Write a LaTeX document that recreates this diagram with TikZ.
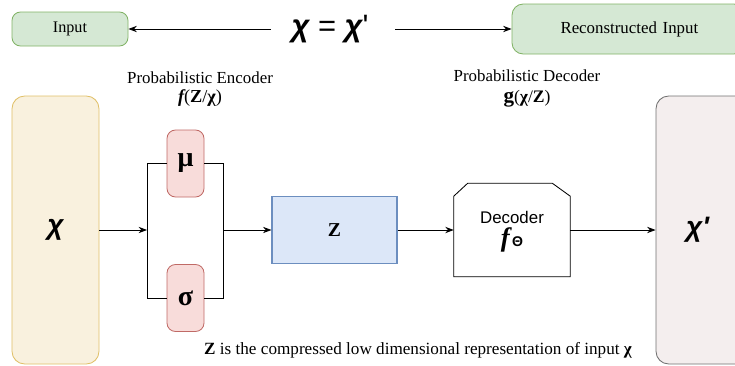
\documentclass[tikz,border=0pt]{standalone}
\usepackage{fontspec}
\setmainfont{Liberation Serif}
\newfontfamily\sansfont{Liberation Sans}
\usetikzlibrary{arrows.meta,calc}
\definecolor{greenfill}{HTML}{D5E8D4}
\definecolor{greenline}{HTML}{82B366}
\definecolor{yellowfill}{HTML}{F9F1DE}
\definecolor{yellowline}{HTML}{E0C068}
\definecolor{redfill}{HTML}{F8DCDA}
\definecolor{redline}{HTML}{C06A66}
\definecolor{bluefill}{HTML}{DCE7F8}
\definecolor{blueline}{HTML}{6C8EBF}
\definecolor{greyfill}{HTML}{F4EEEE}
\definecolor{greyline}{HTML}{707070}

\tikzset{
    box/.style={draw,rounded corners=6pt,line width=0.6pt,inner sep=0pt},
    conn/.style={line width=0.6pt,-{Stealth[length=6pt,width=4.5pt]}},
    bigchi/.style={font=\sansfont\bfseries\itshape\fontsize{20}{21}\selectfont}
}

\begin{document}
\begin{tikzpicture}
    \useasboundingbox (0,0) rectangle (18.375,-9.15);
    \node[box,fill=greenfill,draw=greenline,minimum width=2.9cm,minimum height=0.85cm,font=\fontsize{11.5}{13}\selectfont] (input) at (1.75,-0.725){Input};
    \node[box,fill=greenfill,draw=greenline,minimum width=5.825cm,minimum height=1.25cm,rounded corners=8pt,font=\fontsize{12}{14}\selectfont,text width=5.3cm,align=left] (recon) at (15.7125,-0.725){\hspace{0.95cm}Reconstructed Input};
    \node[font=\sansfont\fontsize{22}{24}\selectfont] (eq) at (8.25,-0.725){{\bfseries\itshape χ} = {\bfseries\itshape χ}'};
    \draw[conn] ($(eq.west)+(-0.4,0)$) -- (input.east);
    \draw[conn] ($(eq.east)+(0.55,0)$) -- (recon.west);

    \node[font=\fontsize{12}{14}\selectfont] (enclabel) at (5.0,-1.95){Probabilistic Encoder};
    \node[font=\fontsize{13}{15}\selectfont] (encf) at (5.0,-2.45){{\bfseries\itshape f}({\bfseries Z}/{\bfseries χ})};
    \node[font=\fontsize{12}{14}\selectfont] (declabel) at (13.175,-1.9){Probabilistic Decoder};
    \node[font=\fontsize{12.5}{15}\selectfont] (decg) at (13.175,-2.475){{\bfseries\fontsize{15}{15}\selectfont g}({\bfseries χ}/{\bfseries Z})};

    \node[box,fill=yellowfill,draw=yellowline,minimum width=2.175cm,minimum height=6.7cm,rounded corners=9pt,bigchi] (chi) at (1.3875,-5.75){χ};
    \node[box,fill=redfill,draw=redline,minimum width=0.925cm,minimum height=1.675cm,font=\bfseries\fontsize{20}{21}\selectfont] (mu) at (4.6375,-4.0875){μ};
    \node[box,fill=redfill,draw=redline,minimum width=0.925cm,minimum height=1.675cm,font=\bfseries\fontsize{20}{21}\selectfont] (sigma) at (4.6375,-7.45){σ};
    \coordinate (lm) at (3.675,-5.75);
    \coordinate (rm) at (5.575,-5.75);
    \draw[line width=0.6pt] (mu.west) -- (mu.west -| lm) -- (sigma.west -| lm) -- (sigma.west);
    \draw[line width=0.6pt] (mu.east) -- (mu.east -| rm) -- (sigma.east -| rm) -- (sigma.east);
    \draw[conn] (chi.east) -- (lm);

    \node[draw=blueline,fill=bluefill,line width=0.8pt,minimum width=3.125cm,minimum height=1.675cm,font=\bfseries\fontsize{14}{15}\selectfont] (z) at (8.3625,-5.75){Z};
    \draw[conn] (rm) -- (z.west);

    \node[minimum width=2.9cm,minimum height=2.325cm,inner sep=0pt] (dec) at (12.8,-5.75){};
    \draw[line width=0.6pt,fill=white] ($(dec.north west)+(0,-0.325)$) -- ($(dec.north west)+(0.35,0)$) -- ($(dec.north east)+(-0.45,0)$) -- ($(dec.north east)+(0,-0.325)$) -- (dec.south east) -- (dec.south west) -- cycle;
    \node[align=center,inner sep=0pt] (dectext) at ($(dec.center)+(0,-0.05)$){{\sansfont\fontsize{12}{14}\selectfont Decoder}\\[2pt]{\bfseries\itshape\fontsize{19}{20}\selectfont f}\,{\sansfont\bfseries\fontsize{10}{11}\selectfont Θ}};
    \draw[conn] (z.east) -- (dec.west);

    \node[box,fill=greyfill,draw=greyline,minimum width=2.6cm,minimum height=6.7cm,rounded corners=9pt,bigchi,text width=2.6cm,align=left] (chip) at (17.7,-5.75){\hspace{0.75cm}χ'};
    \draw[conn] (dec.east) -- (chip.west);

    \node[font=\fontsize{12.2}{14}\selectfont] (note) at (10.45,-8.75){{\bfseries Z} is the compressed low dimensional representation of input {\bfseries χ}};
\end{tikzpicture}
\end{document}
